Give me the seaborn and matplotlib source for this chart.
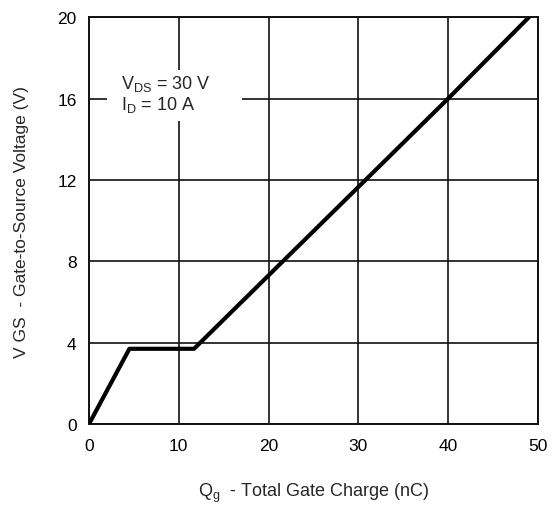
import matplotlib
matplotlib.use("Agg")
import matplotlib.pyplot as plt
import seaborn as sns
import pandas as pd
from matplotlib.patches import Rectangle

# gate charge curve
qg_nc = [0.0, 4.5, 11.7, 40.0, 49.0]
vgs_v = [0.0, 3.7, 3.7, 16.0, 20.0]
x_ticks = [0, 10, 20, 30, 40, 50]
y_ticks = [0, 4, 8, 12, 16, 20]

df = pd.DataFrame({"qg": qg_nc, "vgs": vgs_v})

sns.set_theme(style="white")
plt.rcParams["font.family"] = ["Liberation Sans", "DejaVu Sans"]
plt.rcParams["mathtext.fontset"] = "custom"
plt.rcParams["mathtext.rm"] = "Liberation Sans"
plt.rcParams["mathtext.it"] = "Liberation Sans"

fig = plt.figure(figsize=(5.58, 5.06), dpi=100)
ax = fig.add_axes([0.1595, 0.160, 0.8045, 0.804])

sns.lineplot(data=df, x="qg", y="vgs", ax=ax, color="black", linewidth=3.0,
             zorder=3, sort=False)

ax.set_xlim(0, 50)
ax.set_ylim(0, 20)
ax.set_xticks(x_ticks)
ax.set_yticks(y_ticks)
ax.set_axisbelow(True)
ax.grid(True, color="#111111", linewidth=1.2)
for s in ax.spines.values():
    s.set_color("#111111")
    s.set_linewidth(1.4)
ax.tick_params(axis="both", length=0, labelsize=12.5, colors="black")
ax.tick_params(axis="x", pad=10)
ax.tick_params(axis="y", pad=9)

# white box behind the test conditions
ax.add_patch(Rectangle((2, 14.9), 15, 2.5, facecolor="white", edgecolor="none", zorder=1))
ax.text(3.6, 16.75, r"V$_{\mathrm{DS}}$ = 30 V", fontsize=13, va="center", ha="left", zorder=4)
ax.text(3.6, 15.75, r"I$_{\mathrm{D}}$ = 10 A", fontsize=13, va="center", ha="left", zorder=4)

ax.set_xlabel(r"Q$_{\mathrm{g}}$  - Total Gate Charge (nC)", fontsize=13, labelpad=20)
ax.set_ylabel("V GS  - Gate-to-Source Voltage (V)", fontsize=12.5, labelpad=20)

fig.savefig("out.png", dpi=100)
